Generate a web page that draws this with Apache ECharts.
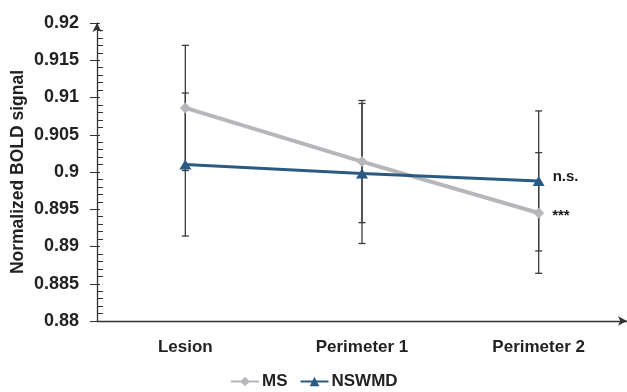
<!DOCTYPE html>
<html>
<head>
<meta charset="utf-8">
<script src="https://cdn.jsdelivr.net/npm/echarts@6/dist/echarts.min.js"></script>
<style>
  html, body { margin: 0; padding: 0; background: #fff; }
  #chart { width: 627px; height: 392px; }
</style>
</head>
<body>
<div id="chart"></div>
<script>
// data
const categories = ['Lesion', 'Perimeter 1', 'Perimeter 2'];
const msMean = [0.9086, 0.9014, 0.8945];
const msErr = [0.0084, 0.0082, 0.0081];
const nswmdMean = [0.9010, 0.8998, 0.8988];
const nswmdErr = [0.0096, 0.0094, 0.0094];
const msSig = ['', '', '***'];
const nswmdSig = ['', '', 'n.s.'];

const font = 'Liberation Sans, Arial, sans-serif';
const axisColor = '#333';

const errData = (mean, err) => mean.map((m, i) => [i, m - err[i], m + err[i]]);

// vertical error bar with caps
const renderErr = (params, api) => {
  const x = api.value(0);
  const lo = api.coord([x, api.value(1)]);
  const hi = api.coord([x, api.value(2)]);
  const w = 3.5;
  const style = { stroke: '#3c3c3c', lineWidth: 1.3 };
  return {
    type: 'group',
    children: [
      { type: 'line', shape: { x1: lo[0], y1: lo[1], x2: hi[0], y2: hi[1] }, style },
      { type: 'line', shape: { x1: hi[0] - w, y1: hi[1], x2: hi[0] + w, y2: hi[1] }, style },
      { type: 'line', shape: { x1: lo[0] - w, y1: lo[1], x2: lo[0] + w, y2: lo[1] }, style }
    ]
  };
};

const withSig = (mean, sig, dy) => mean.map((v, i) => sig[i] ? {
  value: v,
  label: {
    show: true, position: 'right', distance: 8, offset: [0, dy],
    formatter: sig[i], fontFamily: font, fontSize: 15, fontWeight: 'bold', color: '#1a1a1a'
  }
} : v);

const chart = echarts.init(document.getElementById('chart'));

const yCommon = {
  type: 'value',
  min: 0.88,
  max: 0.92,
  interval: 0.005,
  position: 'left',
  splitLine: { show: false }
};

chart.setOption({
  animation: false,
  grid: { left: 97, right: 0, top: 23, bottom: 71, outerBoundsMode: 'none' },
  legend: {
    bottom: 2,
    left: 230,
    padding: 0,
    itemWidth: 28,
    itemHeight: 12,
    itemGap: 12,
    textStyle: { fontFamily: font, fontSize: 17, fontWeight: 'bold', color: '#222', padding: [0, 0, 0, -2] },
    data: ['MS', 'NSWMD']
  },
  xAxis: {
    type: 'category',
    data: categories,
    axisLine: {
      lineStyle: { color: axisColor, width: 1.3 },
      symbol: ['none', 'arrow'],
      symbolSize: [7, 9]
    },
    axisTick: { show: false },
    axisLabel: {
      margin: 18,
      fontFamily: font, fontSize: 17, fontWeight: 'bold', color: '#222'
    }
  },
  yAxis: [
    Object.assign({}, yCommon, {
      name: 'Normalized BOLD signal',
      nameLocation: 'middle',
      nameGap: 70,
      nameMoveOverlap: false,
      nameTextStyle: { fontFamily: font, fontSize: 17.5, fontWeight: 'bold', color: '#222' },
      axisLine: {
        show: true,
        lineStyle: { color: axisColor, width: 1.3 },
        symbol: ['none', 'arrow'],
        symbolSize: [7, 9]
      },
      axisTick: { show: true, length: 7, lineStyle: { color: axisColor } },
      axisLabel: {
        margin: 18,
        formatter: v => String(parseFloat(v.toFixed(3))),
        fontFamily: font, fontSize: 18, fontWeight: 'bold', color: '#222'
      }
    }),
    Object.assign({}, yCommon, {
      axisLine: { show: false },
      axisLabel: { show: false },
      axisTick: { show: true, inside: true, length: 3, lineStyle: { color: axisColor } },
      minorTick: { show: true, splitNumber: 5, length: 6, lineStyle: { color: axisColor } }
    })
  ],
  series: [
    {
      type: 'custom',
      name: 'msErr',
      renderItem: renderErr,
      encode: { x: 0, y: [1, 2] },
      data: errData(msMean, msErr),
      z: 1
    },
    {
      type: 'custom',
      name: 'nswmdErr',
      renderItem: renderErr,
      encode: { x: 0, y: [1, 2] },
      data: errData(nswmdMean, nswmdErr),
      z: 1
    },
    {
      type: 'line',
      name: 'MS',
      data: withSig(msMean, msSig, 3),
      symbol: 'diamond',
      symbolSize: 11,
      color: '#b5b7bb',
      lineStyle: { width: 4, color: '#b5b7bb' },
      itemStyle: { color: '#b5b7bb' },
      z: 3
    },
    {
      type: 'line',
      name: 'NSWMD',
      data: withSig(nswmdMean, nswmdSig, -4),
      symbol: 'triangle',
      symbolSize: [12, 10],
      color: '#2a5a82',
      lineStyle: { width: 3, color: '#2a5a82' },
      itemStyle: { color: '#2a5a82' },
      z: 4
    }
  ]
});
</script>
</body>
</html>
